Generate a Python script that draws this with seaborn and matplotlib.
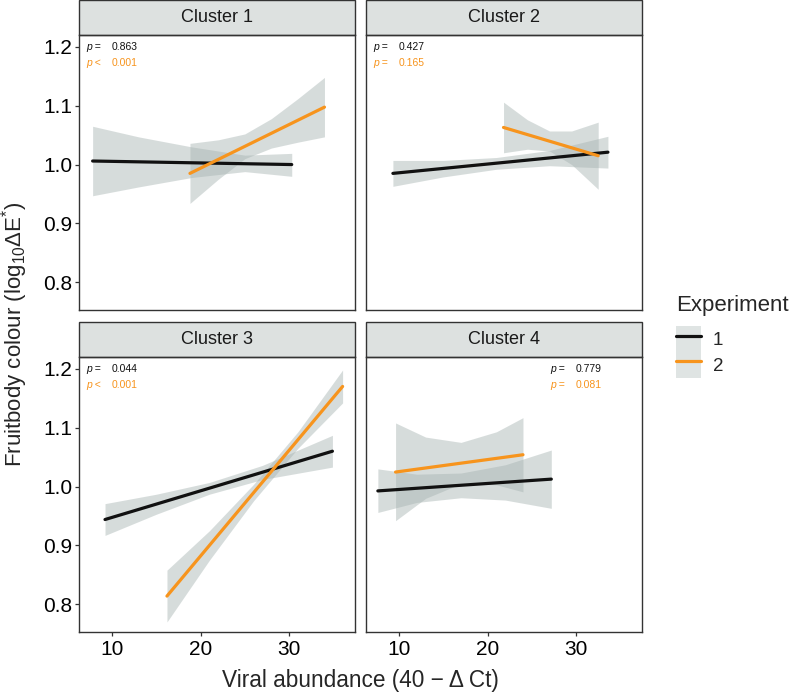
import matplotlib
matplotlib.use("Agg")
import matplotlib.pyplot as plt
from matplotlib.patches import Rectangle, Patch
from matplotlib.lines import Line2D
import pandas as pd
import seaborn as sns

sns.set_theme(style="white")
plt.rcParams["font.family"] = ["Liberation Sans", "DejaVu Sans"]
plt.rcParams["mathtext.fontset"] = "custom"
plt.rcParams["mathtext.rm"] = "Liberation Sans"
plt.rcParams["mathtext.it"] = "Liberation Sans:italic"

clusters = ["Cluster 1", "Cluster 2", "Cluster 3", "Cluster 4"]
experiments = ["1", "2"]

# fitted line ends (viral abundance, log10 dE*)
fit_x_exp1 = [[7.8, 30.3], [9.3, 33.6], [9.2, 34.9], [7.6, 27.2]]
fit_y_exp1 = [[1.006, 1.000], [0.985, 1.021], [0.944, 1.060], [0.9926, 1.0126]]
fit_x_exp2 = [[18.8, 34.0], [21.8, 32.5], [16.2, 36.05], [9.6, 24.0]]
fit_y_exp2 = [[0.985, 1.0975], [1.063, 1.015], [0.814, 1.170], [1.0246, 1.054]]

band_x_exp1 = [[7.8, 13, 19, 25, 30.3], [9.3, 15, 21, 27, 33.6],
               [9.2, 15, 21, 27, 34.9], [7.6, 12, 17, 22, 27.2]]
band_lo_exp1 = [[0.947, 0.962, 0.978, 0.988, 0.980], [0.963, 0.979, 0.992, 0.998, 0.994],
                [0.917, 0.953, 0.987, 1.012, 1.033], [0.956, 0.973, 0.981, 0.977, 0.963]]
band_hi_exp1 = [[1.065, 1.047, 1.030, 1.016, 1.019], [1.007, 1.007, 1.012, 1.024, 1.048],
                [0.971, 0.987, 1.007, 1.036, 1.087], [1.030, 1.021, 1.023, 1.037, 1.062]]
band_x_exp2 = [[18.8, 22, 25, 28, 31, 34], [21.8, 24.5, 27, 29.5, 32.5],
               [16.2, 21, 26, 31, 36.05], [9.6, 13, 17, 21, 24.0]]
band_lo_exp2 = [[0.934, 0.975, 1.010, 1.028, 1.038, 1.047], [1.020, 1.026, 1.023, 1.000, 0.958],
                [0.770, 0.875, 0.976, 1.065, 1.142], [0.942, 0.980, 1.005, 1.003, 0.991]]
band_hi_exp2 = [[1.036, 1.042, 1.052, 1.078, 1.112, 1.148], [1.106, 1.076, 1.057, 1.057, 1.072],
                [0.858, 0.925, 1.004, 1.093, 1.198], [1.108, 1.084, 1.075, 1.093, 1.117]]

p_sign_exp1 = ["=", "=", "=", "="]
p_val_exp1 = ["0.863", "0.427", "0.044", "0.779"]
p_sign_exp2 = ["<", "=", "<", "="]
p_val_exp2 = ["0.001", "0.165", "0.001", "0.081"]

palette = {"1": "#111111", "2": "#f7941d"}
band_col = "#a6b3b1"
border = "#333333"

rows = []
for i, c in enumerate(clusters):
    for e, fx, fy in (("1", fit_x_exp1, fit_y_exp1), ("2", fit_x_exp2, fit_y_exp2)):
        for x, y in zip(fx[i], fy[i]):
            rows.append({"cluster": c, "Experiment": e, "x": x, "y": y})
fits = pd.DataFrame(rows)

W, H = 792, 693
fig = plt.figure(figsize=(W / 100, H / 100), dpi=100)

lefts = [79, 366]
tops = [35, 357]
pw, ph = 276, 275
strip_h = 35

for i, c in enumerate(clusters):
    r, col = divmod(i, 2)
    ax = fig.add_axes([lefts[col] / W, 1 - (tops[r] + ph) / H, pw / W, ph / H])

    for bx, lo, hi in ((band_x_exp1, band_lo_exp1, band_hi_exp1),
                       (band_x_exp2, band_lo_exp2, band_hi_exp2)):
        ax.fill_between(bx[i], lo[i], hi[i], color=band_col, alpha=0.45, lw=0, zorder=1)

    sns.lineplot(data=fits[fits["cluster"] == c], x="x", y="y", hue="Experiment",
                 palette=palette, linewidth=2.3, legend=False, ax=ax, zorder=3)

    ax.set_xlim(6.26, 37.45)
    ax.set_ylim(0.753, 1.22)
    ax.set_xticks([10, 20, 30])
    ax.set_yticks([0.8, 0.9, 1.0, 1.1, 1.2])
    ax.set_xlabel("")
    ax.set_ylabel("")
    for s in ax.spines.values():
        s.set_color(border)
        s.set_linewidth(1.0)
    ax.tick_params(length=3, width=0.9, color=border, labelsize=15,
                   labelcolor="black", pad=2)
    ax.tick_params(axis="x", pad=3)
    if col == 1:
        ax.tick_params(axis="y", left=False, labelleft=False)
    else:
        ax.tick_params(axis="y", left=True)
    if r == 0:
        ax.tick_params(axis="x", bottom=False, labelbottom=False)
    else:
        ax.tick_params(axis="x", bottom=True)

    # facet strip
    ax.add_patch(Rectangle((0, 1), 1, strip_h / ph, transform=ax.transAxes,
                           facecolor="#dde1e0", edgecolor=border, lw=1.0, clip_on=False))
    ax.text(0.5, 1 + strip_h / ph / 2, c, transform=ax.transAxes, ha="center",
            va="center", fontsize=13, color="#1a1a1a")

    # p-values
    px, vx = (0.667, 0.761) if i == 3 else (0.025, 0.12)
    for yy, sign, val, e in ((0.957, p_sign_exp1[i], p_val_exp1[i], "1"),
                             (0.897, p_sign_exp2[i], p_val_exp2[i], "2")):
        ax.text(px, yy, "p " + sign, transform=ax.transAxes, fontsize=7.5,
                fontstyle="italic", color=palette[e], va="center")
        ax.text(vx, yy, val, transform=ax.transAxes, fontsize=7.5,
                color=palette[e], va="center")

fig.text(15 / W, 1 - 334 / H, "Fruitbody colour (log$_{10}$ΔE$^{*}$)", rotation=90,
         ha="center", va="center", fontsize=16)
fig.text(360 / W, 1 - 687 / H, "Viral abundance (40 \u2212 Δ Ct)", ha="center",
         va="baseline", fontsize=16.3)

# legend: title drawn as text, keys as a borderless legend below it
fig.text(676 / W, 1 - 311.5 / H, "Experiment", ha="left", va="baseline", fontsize=16)
handles = [(Patch(facecolor=band_col, alpha=0.35, edgecolor="none"),
            Line2D([], [], color=palette[e], lw=2.3)) for e in experiments]
fig.legend(handles, experiments, loc="upper left",
           bbox_to_anchor=(676 / W, 1 - 326 / H), frameon=False, fontsize=13.5,
           handlelength=1.35, handleheight=1.75, labelspacing=0, borderpad=0,
           handletextpad=0.6, borderaxespad=0)

fig.savefig("out.png", dpi=100)
